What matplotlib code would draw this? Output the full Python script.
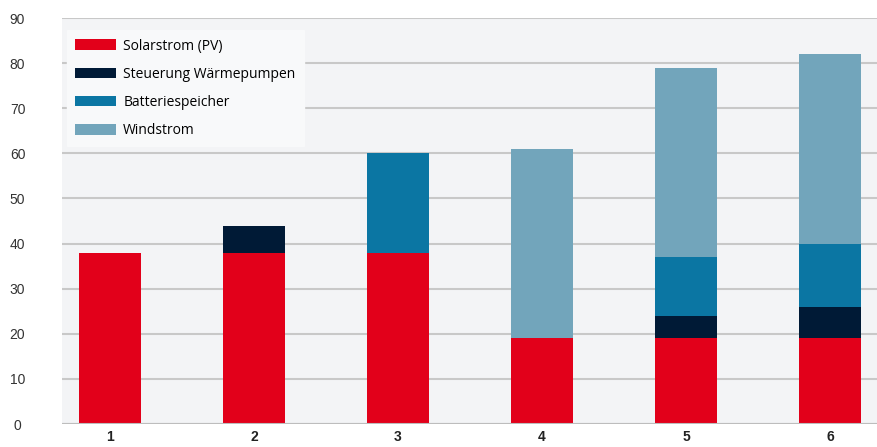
import matplotlib.pyplot as plt
import numpy as np
from matplotlib.patches import Patch

plt.rcParams['font.family'] = ['Liberation Sans', 'DejaVu Sans']

# data
categories = ["1", "2", "3", "4", "5", "6"]
solar = [38, 38, 38, 19, 19, 19]
steuerung = [0, 6, 0, 0, 5, 7]
batterie = [0, 0, 22, 0, 13, 14]
wind = [0, 0, 0, 42, 42, 42]
series_names = ["Solarstrom (PV)", "Steuerung Wärmepumpen", "Batteriespeicher", "Windstrom"]
colors = ["#e2001a", "#001a36", "#0b76a3", "#72a5bb"]

fig = plt.figure(figsize=(8.78, 4.47), dpi=100)
ax = fig.add_axes([62 / 878, 23 / 447, 816 / 878, 406 / 447])
ax.set_facecolor("#f3f4f6")

x = np.arange(1, len(categories) + 1)
bottom = np.zeros(len(categories))
for vals, c in zip([solar, steuerung, batterie, wind], colors):
    v = np.array(vals, dtype=float)
    ax.bar(x, v, bottom=bottom, width=0.43, color=c, zorder=3)
    bottom += v

ax.set_ylim(0, 90)
ax.set_xlim(0.667, 6.333)
ax.set_yticks(range(0, 91, 10))
ax.set_xticks(x)
ax.set_xticklabels(categories, fontweight="bold", fontsize=10, color="#222222")
ax.grid(axis="y", color="#c8c8c8", linewidth=1.5, zorder=1)
ax.axhline(0, color="#bdbdbd", linewidth=1.5, zorder=4)
for s in ax.spines.values():
    s.set_visible(False)
ax.tick_params(axis="both", length=0)
ax.tick_params(axis="y", labelsize=10, labelcolor="#333333", pad=32)
for lbl in ax.get_yticklabels():
    lbl.set_horizontalalignment("center")
ax.tick_params(axis="x", pad=4)

handles = [Patch(facecolor=c, label=n) for c, n in zip(colors, series_names)]
leg = ax.legend(handles=handles, loc="upper left", bbox_to_anchor=(0.006, 0.97),
                frameon=True, fancybox=False, framealpha=1, facecolor="#f8f9fa",
                edgecolor="#f8f9fa", handlelength=2.9, handleheight=0.8,
                labelspacing=0.95, borderpad=0.6, handletextpad=0.55,
                borderaxespad=0.0,
                prop={"family": ["Open Sans", "DejaVu Sans"], "size": 10})
leg.set_zorder(5)

fig.savefig("out.png", dpi=100)
